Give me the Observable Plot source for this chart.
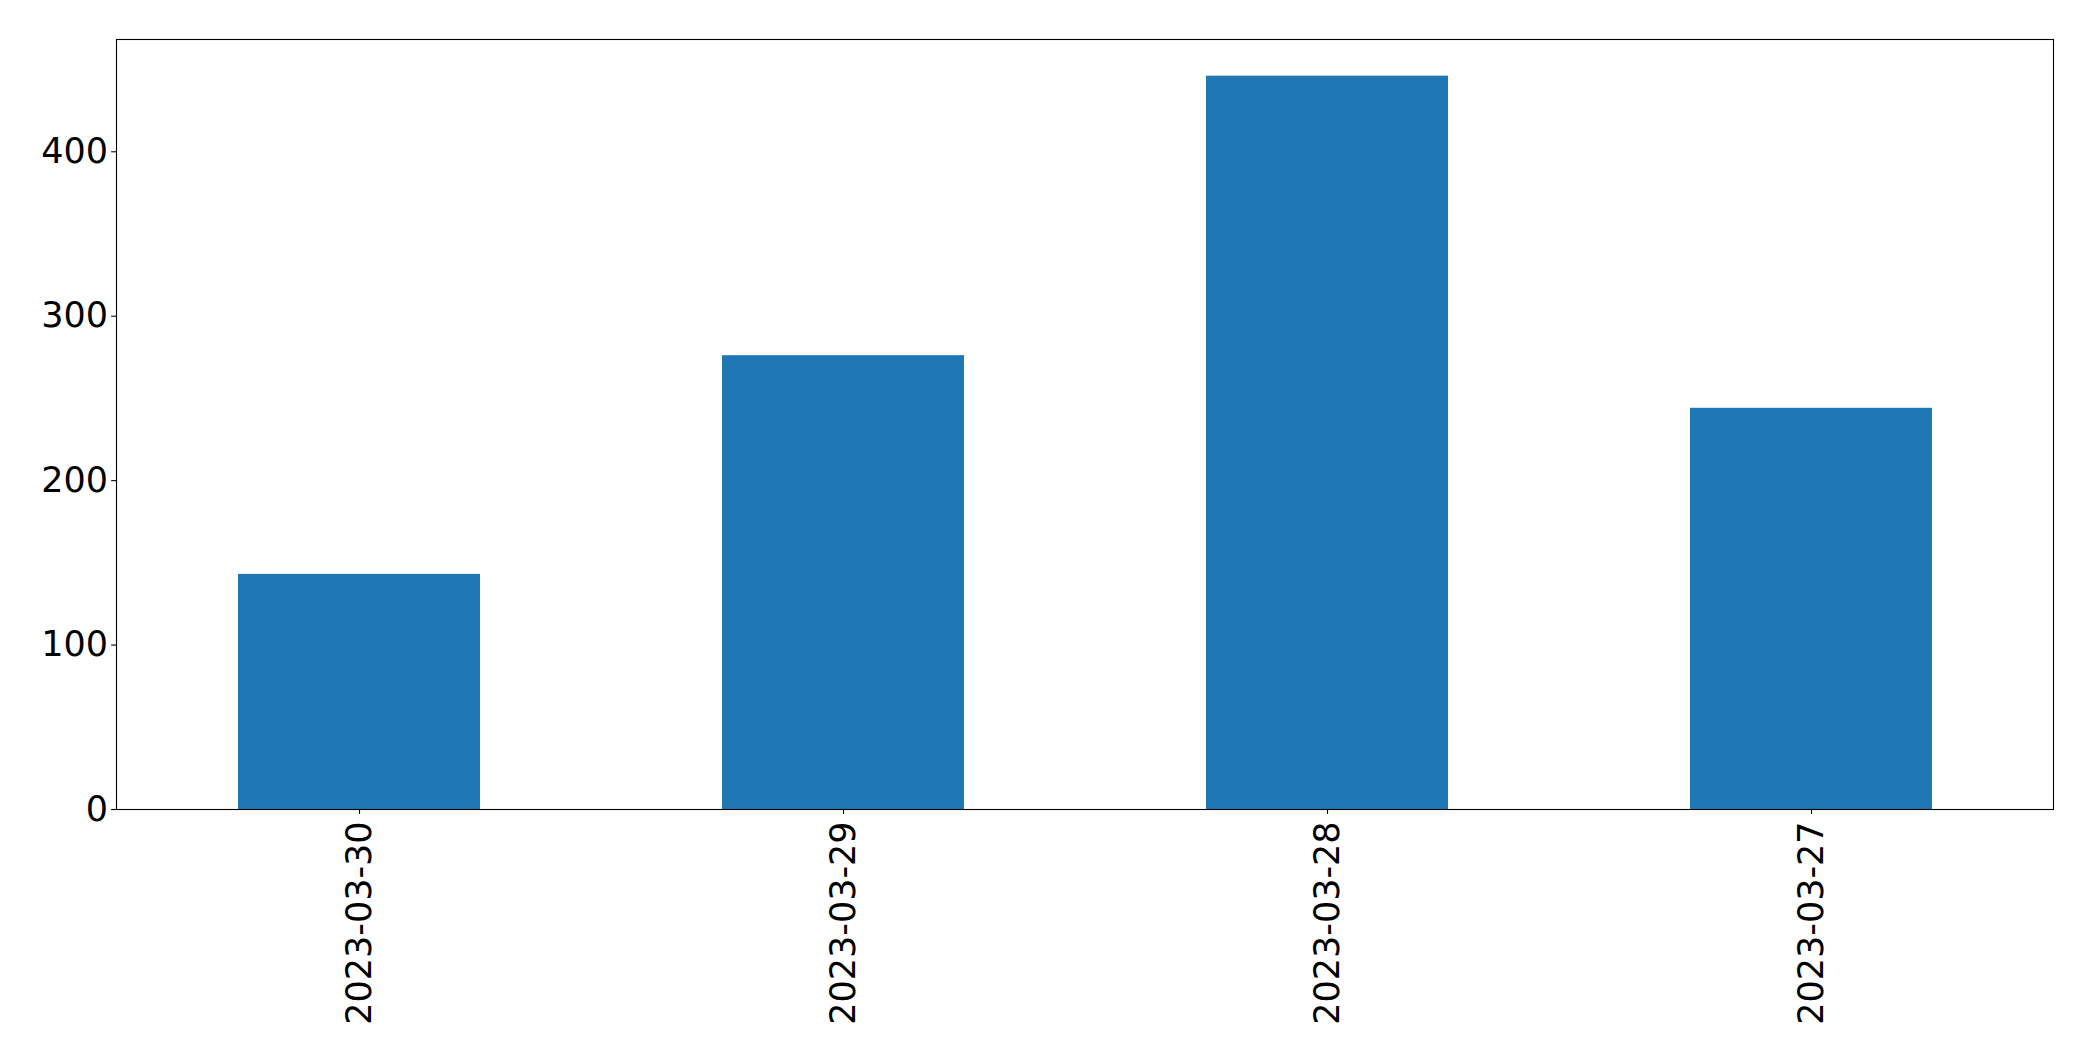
<!DOCTYPE html>
<html>
<head>
<meta charset="utf-8">
<script src="https://cdn.jsdelivr.net/npm/d3@7"></script>
<script src="https://cdn.jsdelivr.net/npm/@observablehq/plot@0.6"></script>
<style>
  html, body { margin: 0; padding: 0; background: #fff; }
  svg { display: block; }
</style>
</head>
<body>
<div id="chart"></div>
<script>
const categories = ["2023-03-30", "2023-03-29", "2023-03-28", "2023-03-27"];
const values = [143, 276, 446, 244];
const yTicks = [0, 100, 200, 300, 400];

const data = categories.map((c, i) => ({ date: c, count: values[i] }));

const chart = Plot.plot({
  width: 2093,
  height: 1061,
  marginLeft: 116,
  marginRight: 40,
  marginTop: 39,
  marginBottom: 252,
  style: { fontFamily: "DejaVu Sans", background: "#fff", color: "#000" },
  x: { type: "band", domain: categories, paddingInner: 0.5, paddingOuter: 0.25 },
  y: { domain: [0, 468.3] },
  marks: [
    Plot.barY(data, { x: "date", y: "count", fill: "#1f77b4" }),
    Plot.axisY({ ticks: yTicks, tickSize: 4.86, tickPadding: 3.5, fontSize: 35, label: null, stroke: "#000", strokeWidth: 1.1, fill: "#000" }),
    Plot.axisX({ tickRotate: -90, tickSize: 4.86, tickPadding: 7, fontSize: 35, label: null, stroke: "#000", strokeWidth: 1.1, fill: "#000" }),
    Plot.frame({ stroke: "#000", strokeWidth: 1.1 })
  ]
});
document.getElementById("chart").appendChild(chart);
</script>
</body>
</html>
